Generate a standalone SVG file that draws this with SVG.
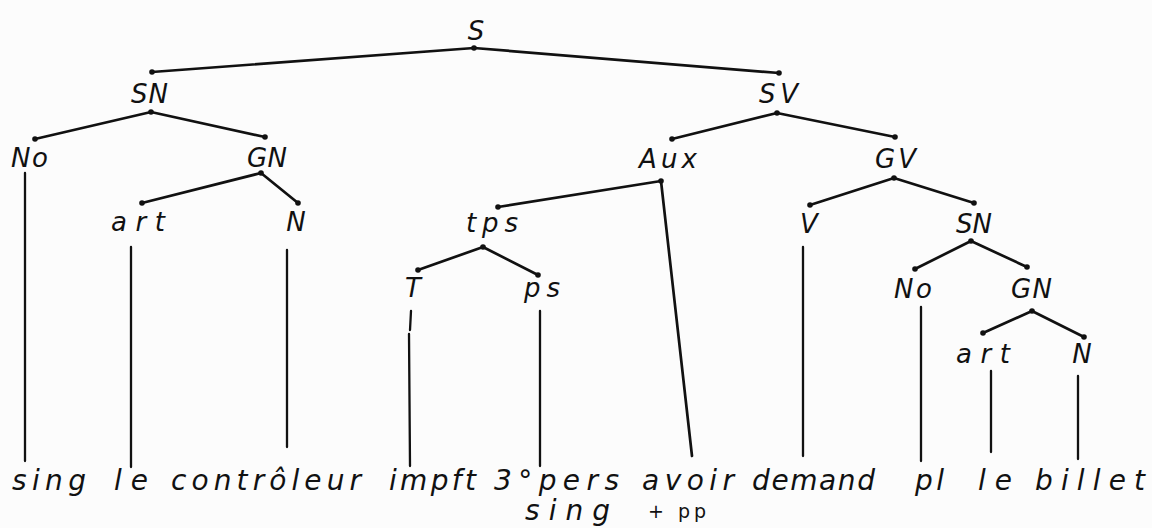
<svg xmlns="http://www.w3.org/2000/svg" width="1152" height="528" viewBox="0 0 1152 528">
  <defs>
    <style>
      .bg { fill: #fcfcfc; }
      .lbl { font-family: "DejaVu Sans", "Liberation Sans", sans-serif; font-style: oblique; font-size: 26px; fill: #111; }
      .word { font-family: "DejaVu Sans", "Liberation Sans", sans-serif; font-style: oblique; font-size: 28px; fill: #111; }
      .small { font-family: "DejaVu Sans", "Liberation Sans", sans-serif; font-size: 19px; fill: #111; }
      .edge { stroke: #111; stroke-width: 2.7; fill: none; stroke-linecap: round; }
      .stem { stroke: #111; stroke-width: 2.3; fill: none; stroke-linecap: round; }
      .dot { fill: #111; }
    </style>
  </defs>

  <rect class="bg" x="0" y="0" width="1152" height="528"/>

  <!-- branches and terminal stems -->
  <g id="connectors">
    <path class="edge" d="M474,48 L152,72 M474,48 L779,73"/>
    <path class="edge" d="M151,112 L35,139 M151,112 L265,137"/>
    <path class="edge" d="M777,113 L672,139 M777,113 L895,137"/>
    <path class="edge" d="M261,173 L142,203 M261,173 L298,203"/>
    <path class="edge" d="M661,181 L498,207 M661,181 L692,456"/>
    <path class="edge" d="M894,178 L810,205 M894,178 L974,203"/>
    <path class="edge" d="M483,247 L418,270 M483,247 L538,275"/>
    <path class="edge" d="M971,241 L915,269 M971,241 L1027,267"/>
    <path class="edge" d="M1032,311 L983,333 M1032,311 L1084,337"/>

    <path class="stem" d="M25,173 L25,461"/>
    <path class="stem" d="M131,247 L131,467"/>
    <path class="stem" d="M287,250 L287,447"/>
    <path class="stem" d="M411,311 L410,330 M409,334 L410,466"/>
    <path class="stem" d="M540,311 L540,466"/>
    <path class="stem" d="M803,247 L803,456"/>
    <path class="stem" d="M921,307 L921,461"/>
    <path class="stem" d="M991,371 L991,452"/>
    <path class="stem" d="M1078,376 L1078,459"/>

    <g class="dot">
      <circle cx="474" cy="48" r="2.8"/><circle cx="152" cy="72" r="2.8"/><circle cx="779" cy="73" r="2.8"/>
      <circle cx="151" cy="112" r="2.8"/><circle cx="35" cy="139" r="2.8"/><circle cx="265" cy="137" r="2.8"/>
      <circle cx="777" cy="113" r="2.8"/><circle cx="672" cy="139" r="2.8"/><circle cx="895" cy="137" r="2.8"/>
      <circle cx="261" cy="173" r="2.8"/><circle cx="142" cy="203" r="2.8"/><circle cx="298" cy="203" r="2.8"/>
      <circle cx="661" cy="181" r="2.8"/><circle cx="498" cy="207" r="2.8"/>
      <circle cx="894" cy="178" r="2.8"/><circle cx="810" cy="205" r="2.8"/><circle cx="974" cy="203" r="2.8"/>
      <circle cx="483" cy="247" r="2.8"/><circle cx="418" cy="270" r="2.8"/><circle cx="538" cy="275" r="2.8"/>
      <circle cx="971" cy="241" r="2.8"/><circle cx="915" cy="269" r="2.8"/><circle cx="1027" cy="267" r="2.8"/>
      <circle cx="1032" cy="311" r="2.8"/><circle cx="983" cy="333" r="2.8"/><circle cx="1084" cy="337" r="2.8"/>
    </g>
  </g>

  <!-- category nodes -->
  <g id="node-S"><text class="lbl" x="476" y="40" text-anchor="middle">S</text></g>
  <g id="node-SN"><text class="lbl" x="131" y="103" textLength="37" lengthAdjust="spacing">SN</text></g>
  <g id="node-SV"><text class="lbl" x="759" y="103" textLength="39" lengthAdjust="spacing">SV</text></g>
  <g id="node-No"><text class="lbl" x="11" y="167" textLength="37" lengthAdjust="spacing">No</text></g>
  <g id="node-GN"><text class="lbl" x="247" y="167" textLength="40" lengthAdjust="spacing">GN</text></g>
  <g id="node-Aux"><text class="lbl" x="639" y="168" textLength="58" lengthAdjust="spacing">Aux</text></g>
  <g id="node-GV"><text class="lbl" x="875" y="168" textLength="41" lengthAdjust="spacing">GV</text></g>
  <g id="node-art"><text class="lbl" x="111" y="231" textLength="54" lengthAdjust="spacing">art</text></g>
  <g id="node-N"><text class="lbl" x="296" y="231" text-anchor="middle">N</text></g>
  <g id="node-tps"><text class="lbl" x="466" y="232" textLength="52" lengthAdjust="spacing">tps</text></g>
  <g id="node-V"><text class="lbl" x="809" y="233" text-anchor="middle">V</text></g>
  <g id="node-SN2"><text class="lbl" x="956" y="233" textLength="36" lengthAdjust="spacing">SN</text></g>
  <g id="node-T"><text class="lbl" x="413" y="297" text-anchor="middle">T</text></g>
  <g id="node-ps"><text class="lbl" x="524" y="297" textLength="36" lengthAdjust="spacing">ps</text></g>
  <g id="node-No2"><text class="lbl" x="894" y="298" textLength="38" lengthAdjust="spacing">No</text></g>
  <g id="node-GN2"><text class="lbl" x="1011" y="298" textLength="41" lengthAdjust="spacing">GN</text></g>
  <g id="node-art2"><text class="lbl" x="956" y="363" textLength="54" lengthAdjust="spacing">art</text></g>
  <g id="node-N2"><text class="lbl" x="1082" y="363" text-anchor="middle">N</text></g>

  <!-- terminal string -->
  <g id="leaf-sing"><text class="word" x="12" y="490" textLength="74" lengthAdjust="spacing">sing</text></g>
  <g id="leaf-le"><text class="word" x="114" y="490" textLength="34" lengthAdjust="spacing">le</text></g>
  <g id="leaf-controleur"><text class="word" x="171" y="490" textLength="190" lengthAdjust="spacing">contrôleur</text></g>
  <g id="leaf-impft"><text class="word" x="389" y="490" textLength="87" lengthAdjust="spacing">impft</text></g>
  <g id="leaf-3pers">
    <text class="word" x="494" y="490" textLength="125" lengthAdjust="spacing">3°pers</text>
    <text class="word" x="525" y="520" textLength="85" lengthAdjust="spacing">sing</text>
  </g>
  <g id="leaf-avoir">
    <text class="word" x="642" y="490" textLength="92" lengthAdjust="spacing">avoir</text>
    <text class="small" x="648" y="518" textLength="58" lengthAdjust="spacing">+ pp</text>
  </g>
  <g id="leaf-demand"><text class="word" x="752" y="490" textLength="123" lengthAdjust="spacing">demand</text></g>
  <g id="leaf-pl"><text class="word" x="915" y="490" textLength="29" lengthAdjust="spacing">pl</text></g>
  <g id="leaf-le2"><text class="word" x="978" y="490" textLength="34" lengthAdjust="spacing">le</text></g>
  <g id="leaf-billet"><text class="word" x="1035" y="490" textLength="110" lengthAdjust="spacing">billet</text></g>
</svg>
